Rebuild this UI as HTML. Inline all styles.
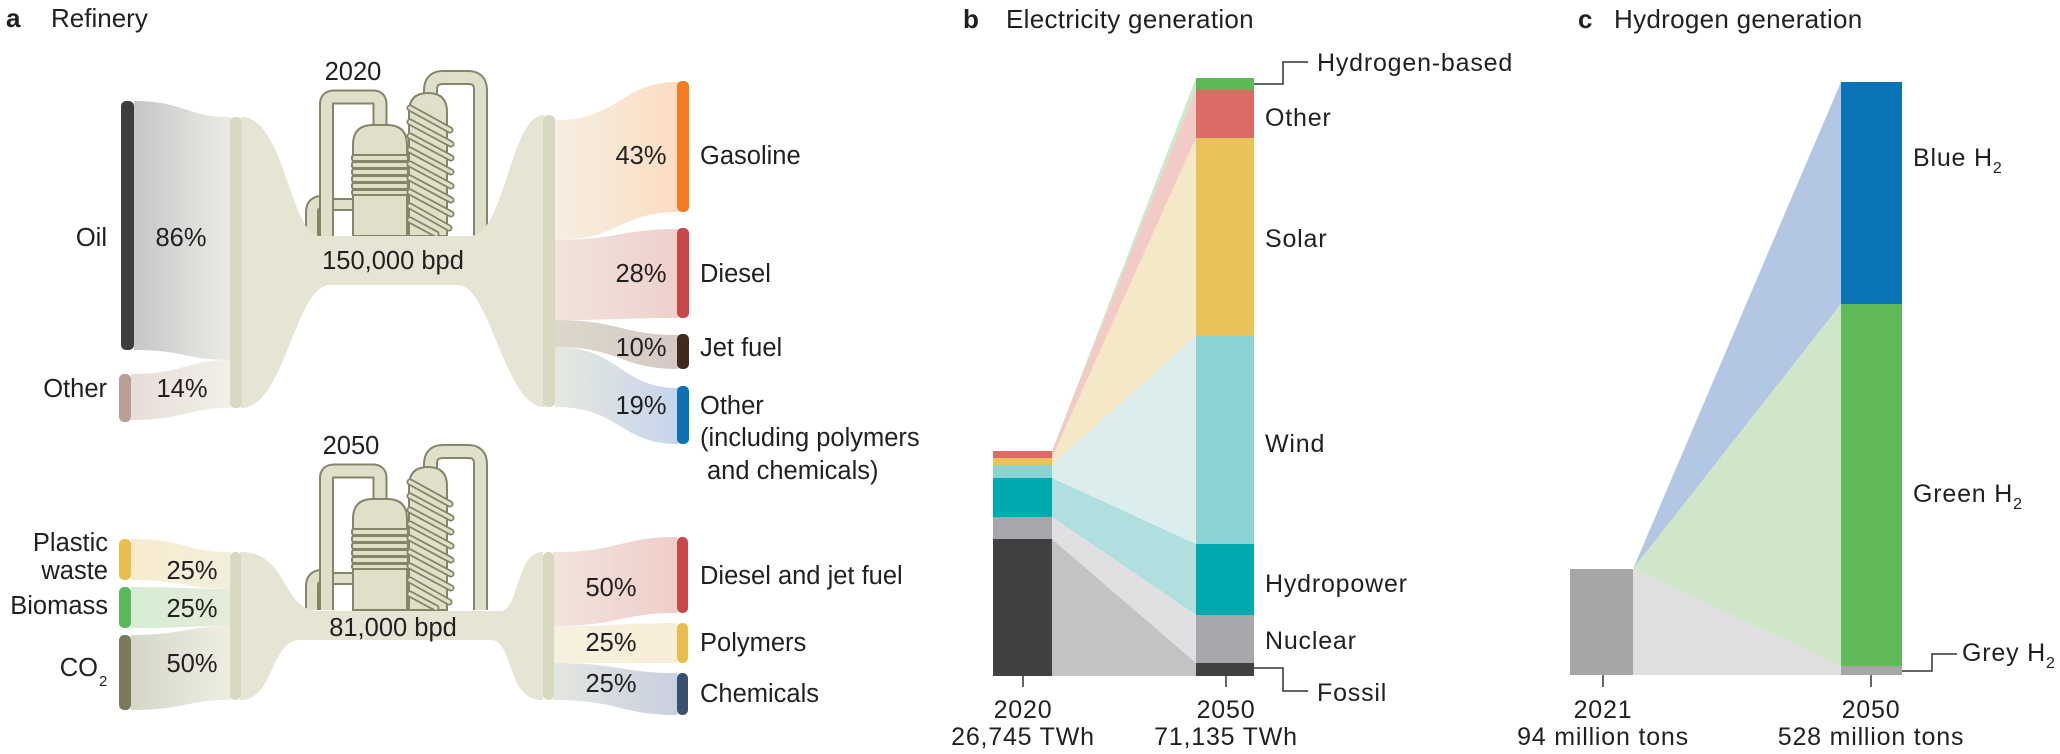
<!DOCTYPE html>
<html><head><meta charset="utf-8"><style>
html,body{margin:0;padding:0;background:#fff}
svg{display:block}
text{font-family:"Liberation Sans",Arial,sans-serif;fill:#231f20}
.t{font-size:25.5px}
.w{font-size:25px;letter-spacing:0.8px}
.h{font-size:26px;letter-spacing:0.3px}
</style></head><body>
<svg width="2060" height="754" viewBox="0 0 2060 754" xmlns="http://www.w3.org/2000/svg">
<defs>
<linearGradient id="gOil" x1="0" x2="1"><stop offset="0" stop-color="#c6c6c8"/><stop offset="1" stop-color="#ecece6"/></linearGradient>
<linearGradient id="gOth" x1="0" x2="1"><stop offset="0" stop-color="#e8ddd8"/><stop offset="1" stop-color="#f2f0e8"/></linearGradient>
<linearGradient id="gGas" x1="0" x2="1"><stop offset="0" stop-color="#f6efe2"/><stop offset="1" stop-color="#fcdcc2"/></linearGradient>
<linearGradient id="gDie" x1="0" x2="1"><stop offset="0" stop-color="#f0e4dc"/><stop offset="1" stop-color="#efcfcb"/></linearGradient>
<linearGradient id="gJet" x1="0" x2="1"><stop offset="0" stop-color="#dcd8cc"/><stop offset="1" stop-color="#d6c8c4"/></linearGradient>
<linearGradient id="gOt2" x1="0" x2="1"><stop offset="0" stop-color="#e6e8e0"/><stop offset="1" stop-color="#c6d5ec"/></linearGradient>
<linearGradient id="gPl" x1="0" x2="1"><stop offset="0" stop-color="#f8ecd0"/><stop offset="1" stop-color="#f2eedc"/></linearGradient>
<linearGradient id="gBi" x1="0" x2="1"><stop offset="0" stop-color="#d6ecd2"/><stop offset="1" stop-color="#e4ecda"/></linearGradient>
<linearGradient id="gCO" x1="0" x2="1"><stop offset="0" stop-color="#d6d6c8"/><stop offset="1" stop-color="#eeeee4"/></linearGradient>
<linearGradient id="gDj" x1="0" x2="1"><stop offset="0" stop-color="#f2e4dc"/><stop offset="1" stop-color="#efcdc9"/></linearGradient>
<linearGradient id="gPo" x1="0" x2="1"><stop offset="0" stop-color="#f6f0de"/><stop offset="1" stop-color="#f8eed6"/></linearGradient>
<linearGradient id="gCh" x1="0" x2="1"><stop offset="0" stop-color="#e4e6e0"/><stop offset="1" stop-color="#c8d0e0"/></linearGradient>
<g id="icon" stroke="#85856a" stroke-width="2" fill="#e0dfca">
 <path d="M312 236 V212 Q312 202 322 202" fill="none" stroke="#85856a" stroke-width="14"/>
 <path d="M312 236 V212 Q312 202 322 202" fill="none" stroke="#e0dfca" stroke-width="10"/>
 <rect x="330" y="199" width="26" height="11" />
 <path d="M326.5 236 V104 Q326.5 97 334 97 H373 Q380 97 380 104 V130" fill="none" stroke="#85856a" stroke-width="15"/>
 <path d="M326.5 236 V104 Q326.5 97 334 97 H373 Q380 97 380 104 V130" fill="none" stroke="#e0dfca" stroke-width="11"/>
 <path d="M430.5 236 V90 Q430.5 77.5 443 77.5 H468 Q480.5 77.5 480.5 90 V236" fill="none" stroke="#85856a" stroke-width="15"/>
 <path d="M430.5 236 V90 Q430.5 77.5 443 77.5 H468 Q480.5 77.5 480.5 90 V236" fill="none" stroke="#e0dfca" stroke-width="11"/>
 <path d="M353 236 V145 Q353 125 373 125 H387 Q407 125 407 145 V236 Z"/>
 <rect x="352" y="155" width="56" height="6" rx="2"/>
 <rect x="352" y="162" width="56" height="6" rx="2"/>
 <rect x="352" y="169" width="56" height="6" rx="2"/>
 <rect x="352" y="176" width="56" height="6" rx="2"/>
 <rect x="352" y="183" width="56" height="6" rx="2"/>
 <rect x="352" y="190" width="56" height="5" rx="2"/>
 <path d="M409 236 V112 Q409 93 428 93 Q447 93 447 112 V236 Z"/>
 <g stroke="#85856a" stroke-width="7" stroke-linecap="round">
 <path d="M410 108 L450 130 M410 122 L451 144 M410 136 L451 158 M410 150 L451 172 M410 164 L451 186 M410 178 L451 200 M410 192 L451 214 M410 206 L449 228 M410 220 L436 234"/>
 </g>
 <g stroke="#e0dfca" stroke-width="3.5" stroke-linecap="round">
 <path d="M410 108 L450 130 M410 122 L451 144 M410 136 L451 158 M410 150 L451 172 M410 164 L451 186 M410 178 L451 200 M410 192 L451 214 M410 206 L449 228 M410 220 L436 234"/>
 </g>
</g>
</defs>

<!-- Panel a -->
<text x="6" y="27" style="font-size:26px;font-weight:bold">a</text>
<text x="51" y="27" style="font-size:26px">Refinery</text>
<text x="353" y="80" class="t" text-anchor="middle">2020</text>

<use href="#icon"/>
<path d="M134 101 C185 101 185 117 231 117 L231 360 C185 360 185 350 134 350 Z" fill="url(#gOil)"/>
<path d="M131 374 C185 374 185 360 231 360 L231 408 C185 408 185 420 131 420 Z" fill="url(#gOth)"/>
<path d="M241 117 C285 117 290 236 320 236 L470 236 C505 236 510 115 544 115 L544 407 C505 407 490 285 458 285 L330 285 C295 285 285 408 241 408 Z" fill="#e6e5d3"/>
<path d="M555 120 C620 120 620 82 678 82 L678 212 C620 212 620 240 555 240 Z" fill="url(#gGas)"/>
<path d="M555 240 C620 240 620 229 678 229 L678 318 C620 318 620 320 555 320 Z" fill="url(#gDie)"/>
<path d="M555 320 C620 320 620 335 678 335 L678 369 C620 369 620 347 555 347 Z" fill="url(#gJet)"/>
<path d="M555 347 C620 347 620 388 678 388 L678 444 C620 444 620 407 555 407 Z" fill="url(#gOt2)"/>
<rect x="121" y="101" width="13" height="249" rx="5" fill="#3d3d3d"/>
<rect x="119" y="374" width="12" height="48" rx="5" fill="#b89e94"/>
<rect x="230" y="117" width="12" height="291" rx="5" fill="#d9d8c0"/>
<rect x="543" y="115" width="12" height="292" rx="5" fill="#d9d8c0"/>
<rect x="677" y="81" width="12" height="131" rx="5" fill="#f47b20"/>
<rect x="677" y="228" width="12" height="90" rx="5" fill="#c9474b"/>
<rect x="677" y="334" width="12" height="35" rx="5" fill="#3f2a20"/>
<rect x="677" y="386" width="12" height="58" rx="5" fill="#0d72b5"/>
<text x="107" y="246" class="t" text-anchor="end">Oil</text>
<text x="181" y="246" class="t" text-anchor="middle">86%</text>
<text x="107" y="397" class="t" text-anchor="end">Other</text>
<text x="182" y="397" class="t" text-anchor="middle">14%</text>
<text x="393" y="269" class="t" text-anchor="middle">150,000 bpd</text>
<text x="641" y="164" class="t" text-anchor="middle">43%</text>
<text x="641" y="282" class="t" text-anchor="middle">28%</text>
<text x="641" y="356" class="t" text-anchor="middle">10%</text>
<text x="641" y="414" class="t" text-anchor="middle">19%</text>
<text x="700" y="164" class="t">Gasoline</text>
<text x="700" y="282" class="t">Diesel</text>
<text x="700" y="356" class="t">Jet fuel</text>
<text x="700" y="414" class="t">Other</text>
<text x="700" y="446" class="t">(including polymers</text>
<text x="707" y="479" class="t">and chemicals)</text>

<text x="351" y="454" class="t" text-anchor="middle">2050</text>
<use href="#icon" transform="translate(0,374)"/>
<path d="M240 552 C290 552 280 611 320 611 L500 611 C520 611 515 552 543 552 L543 700 C505 700 515 640 490 640 L300 640 C270 640 275 700 240 700 Z" fill="#e6e5d3"/>
<path d="M131 539 C185 539 185 552 231 552 L231 589 C185 589 185 580 131 580 Z" fill="url(#gPl)"/>
<path d="M131 587 C185 587 185 589 231 589 L231 626 C185 626 185 628 131 628 Z" fill="url(#gBi)"/>
<path d="M131 635 C185 635 185 626 231 626 L231 700 C185 700 185 710 131 710 Z" fill="url(#gCO)"/>
<path d="M553 552 C620 552 620 537 677 537 L677 613 C620 613 620 626 553 626 Z" fill="url(#gDj)"/>
<path d="M553 626 C620 626 620 623 677 623 L677 663 C620 663 620 663 553 663 Z" fill="url(#gPo)"/>
<path d="M553 663 C620 663 620 673 677 673 L677 715 C620 715 620 700 553 700 Z" fill="url(#gCh)"/>
<rect x="119" y="539" width="12" height="41" rx="5" fill="#e8bf4f"/>
<rect x="119" y="587" width="12" height="41" rx="5" fill="#5ab858"/>
<rect x="119" y="635" width="12" height="75" rx="5" fill="#7a795a"/>
<rect x="230" y="552" width="11" height="148" rx="5" fill="#d9d8c0"/>
<rect x="543" y="552" width="11" height="148" rx="5" fill="#d9d8c0"/>
<rect x="677" y="537" width="11" height="76" rx="5" fill="#c9474b"/>
<rect x="677" y="623" width="11" height="40" rx="5" fill="#e8bf4f"/>
<rect x="677" y="673" width="11" height="42" rx="5" fill="#3b4f6e"/>
<text x="108" y="551" class="t" text-anchor="end">Plastic</text>
<text x="108" y="579" class="t" text-anchor="end">waste</text>
<text x="108" y="614" class="t" text-anchor="end">Biomass</text>
<text x="98" y="676" class="t" text-anchor="end">CO</text>
<text x="99" y="686" style="font-size:15px">2</text>
<text x="192" y="579" class="t" text-anchor="middle">25%</text>
<text x="192" y="617" class="t" text-anchor="middle">25%</text>
<text x="192" y="672" class="t" text-anchor="middle">50%</text>
<text x="393" y="636" class="t" text-anchor="middle">81,000 bpd</text>
<text x="611" y="596" class="t" text-anchor="middle">50%</text>
<text x="611" y="651" class="t" text-anchor="middle">25%</text>
<text x="611" y="692" class="t" text-anchor="middle">25%</text>
<text x="700" y="584" class="t">Diesel and jet fuel</text>
<text x="700" y="651" class="t">Polymers</text>
<text x="700" y="702" class="t">Chemicals</text>

<!-- Panel b -->
<text x="963" y="28" style="font-size:26px;font-weight:bold">b</text>
<text x="1006" y="28" class="h">Electricity generation</text>
<polygon points="1052,451 1196,78 1196,90 1052,452" fill="#cfe8c8"/>
<polygon points="1052,451 1196,90 1196,138 1052,458" fill="#f2cbc6"/>
<polygon points="1052,458 1196,138 1196,336 1052,465" fill="#f5e8c6"/>
<polygon points="1052,465 1196,336 1196,544 1052,478" fill="#dbeeed"/>
<polygon points="1052,478 1196,544 1196,615 1052,517" fill="#b0dfe0"/>
<polygon points="1052,517 1196,615 1196,663 1052,539" fill="#e0e0e2"/>
<polygon points="1052,539 1196,663 1196,676 1052,676" fill="#c2c3c5"/>
<rect x="993" y="451" width="59" height="7" fill="#dd6a65"/>
<rect x="993" y="458" width="59" height="7" fill="#e8c35a"/>
<rect x="993" y="465" width="59" height="13" fill="#8bd2d2"/>
<rect x="993" y="478" width="59" height="39" fill="#00a9ad"/>
<rect x="993" y="517" width="59" height="22" fill="#a6a7aa"/>
<rect x="993" y="539" width="59" height="137" fill="#404042"/>
<rect x="1196" y="78" width="58" height="12" fill="#5cb957"/>
<rect x="1196" y="90" width="58" height="48" fill="#dd6a65"/>
<rect x="1196" y="138" width="58" height="198" fill="#e8c35a"/>
<rect x="1196" y="336" width="58" height="208" fill="#8bd2d2"/>
<rect x="1196" y="544" width="58" height="71" fill="#00a9ad"/>
<rect x="1196" y="615" width="58" height="48" fill="#a6a7aa"/>
<rect x="1196" y="663" width="58" height="13" fill="#404042"/>
<path d="M1254 84 H1283 V62 H1308 M1254 668 H1283 V691 H1308 M1023 676 V687 M1226 676 V687" fill="none" stroke="#333" stroke-width="1.5"/>
<text x="1317" y="71" class="w">Hydrogen-based</text>
<text x="1265" y="126" class="w">Other</text>
<text x="1265" y="247" class="w">Solar</text>
<text x="1265" y="452" class="w">Wind</text>
<text x="1265" y="592" class="w">Hydropower</text>
<text x="1265" y="649" class="w">Nuclear</text>
<text x="1317" y="701" class="w">Fossil</text>
<text x="1023" y="718" class="w" text-anchor="middle">2020</text>
<text x="1023" y="745" class="w" text-anchor="middle">26,745 TWh</text>
<text x="1226" y="718" class="w" text-anchor="middle">2050</text>
<text x="1226" y="745" class="w" text-anchor="middle">71,135 TWh</text>

<!-- Panel c -->
<text x="1578" y="28" style="font-size:26px;font-weight:bold">c</text>
<text x="1614" y="28" class="h">Hydrogen generation</text>
<polygon points="1633,569 1841,82 1841,304" fill="#b3c6e4"/>
<polygon points="1633,569 1841,304 1841,666" fill="#cfe6c9"/>
<polygon points="1633,569 1841,666 1841,675 1633,675" fill="#e0e0e0"/>
<rect x="1570" y="569" width="63" height="106" fill="#a6a6a6"/>
<rect x="1841" y="82" width="61" height="222" fill="#0a75b4"/>
<rect x="1841" y="304" width="61" height="362" fill="#5fba57"/>
<rect x="1841" y="666" width="61" height="9" fill="#a6a6a6"/>
<path d="M1902 671 H1932 V654 H1957 M1603 675 V687 M1871 675 V687" fill="none" stroke="#333" stroke-width="1.5"/>
<text x="1913" y="166" class="w">Blue H<tspan dy="7" style="font-size:16px">2</tspan></text>
<text x="1913" y="502" class="w">Green H<tspan dy="7" style="font-size:16px">2</tspan></text>
<text x="1962" y="661" class="w">Grey H<tspan dy="7" style="font-size:16px">2</tspan></text>
<text x="1603" y="718" class="w" text-anchor="middle">2021</text>
<text x="1603" y="745" class="w" text-anchor="middle">94 million tons</text>
<text x="1871" y="718" class="w" text-anchor="middle">2050</text>
<text x="1871" y="745" class="w" text-anchor="middle">528 million tons</text>
</svg>
</body></html>
